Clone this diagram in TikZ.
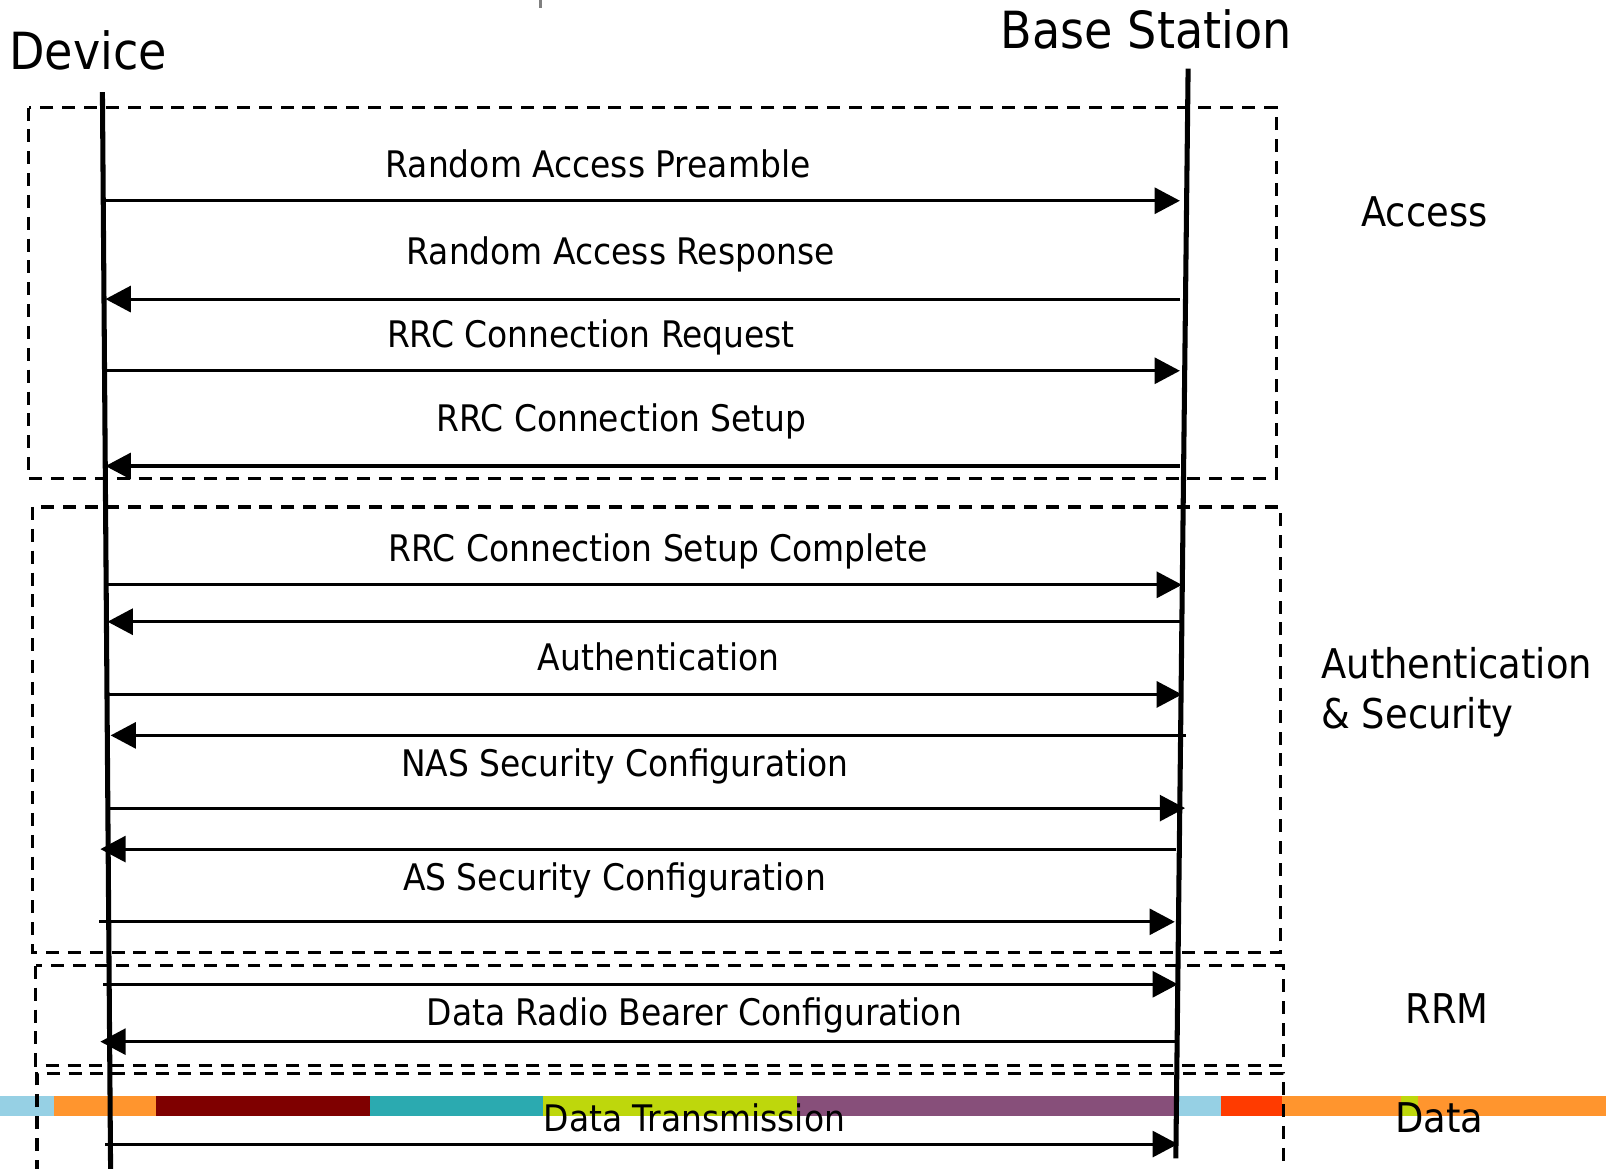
\documentclass[tikz,border=0pt]{standalone}
\usepackage{fontspec}
\setmainfont{DejaVu Sans Condensed}
\usetikzlibrary{arrows.meta}
\definecolor{cLblue}{HTML}{96D0E4}
\definecolor{cOrange}{HTML}{FF952E}
\definecolor{cDred}{HTML}{7F0000}
\definecolor{cTeal}{HTML}{2BAAB0}
\definecolor{cLime}{HTML}{BED70C}
\definecolor{cPurple}{HTML}{874F7A}
\definecolor{cRed}{HTML}{FF3B00}
\tikzset{
  lifeline/.style={line width=3.7pt},
  grpbox/.style={line width=2.4pt, dash pattern=on 9.5pt off 6.5pt},
  msg/.style={line width=2.3pt, -{Triangle[length=18.5pt,width=19pt]}},
  msglabel/.style={anchor=base, inner sep=0pt, font=\fontsize{26.8}{31}\selectfont},
  actor/.style={anchor=base west, inner sep=0pt, font=\fontsize{37.5}{44}\selectfont},
  phase/.style={anchor=base west, inner sep=0pt, font=\fontsize{30}{36}\selectfont},
}
\begin{document}
\begin{tikzpicture}[x=0.75pt,y=-0.75pt]
\useasboundingbox (0,0) rectangle (1568,1141);
% colour bar
\fill[cLblue]  (0,1070) rectangle (53,1090);
\fill[cOrange] (53,1070) rectangle (152,1090);
\fill[cDred]   (152,1070) rectangle (361,1090);
\fill[cTeal]   (361,1070) rectangle (530,1090);
\fill[cLime]   (530,1070) rectangle (778,1090);
\fill[cPurple] (778,1070) rectangle (1147,1090);
\fill[cLblue]  (1147,1070) rectangle (1192,1090);
\fill[cRed]    (1192,1070) rectangle (1252,1090);
\fill[cOrange] (1252,1070) rectangle (1568,1090);
\fill[cLime]   (1368,1070) rectangle (1384,1090);
% small tick at top
\draw[line width=2.2pt, gray] (528,0) -- (528,8);
% group boxes
\draw[grpbox] (28,105) rectangle (1246,467);
\draw[grpbox] (32,495) rectangle (1250,930);
\draw[grpbox] (35,943) rectangle (1253,1040);
\draw[grpbox] (36,1145) -- (36,1048) -- (1253,1048) -- (1253,1145);
% lifelines
\coordinate (d1) at (100,90);
\coordinate (d2) at (108,1145);
\coordinate (b1) at (1160,67);
\coordinate (b2) at (1148,1131);
\draw[lifeline] (d1) -- (d2);
\draw[lifeline] (b1) -- (b2);
% actors
\node[actor] (dev) at (9,68) {Device};
\node[actor] (bs) at (977,47) {Base Station};
% messages
\foreach \n/\y/\xs/\xe in {
  m1/196/103/1152, m3/362/103/1152, m5/571/105/1154, m7/678/105/1154,
  m9/789/107/1157, m11/900/97/1147, m12/961/101/1150, m14/1117/103/1150}{
  \coordinate (\n s) at (\xs,\y);
  \coordinate (\n e) at (\xe,\y);
  \draw[msg] (\n s) -- (\n e);
}
\foreach \n/\y/\xs/\xe in {
  m2/292/1152/103, m4/455/1152/103, m6/607/1153/105, m8/718/1158/108,
  m10/829/1148/98, m13/1017/1147/98}{
  \coordinate (\n s) at (\xs,\y);
  \coordinate (\n e) at (\xe,\y);
  \draw[msg] (\n s) -- (\n e);
}
% message labels
\node[msglabel] (l1) at (584,173) {Random Access Preamble};
\node[msglabel] (l2) at (606,258) {Random Access Response};
\node[msglabel] (l3) at (577,339) {RRC Connection Request};
\node[msglabel] (l4) at (607,421) {RRC Connection Setup};
\node[msglabel] (l5) at (643,548) {RRC Connection Setup Complete};
\node[msglabel] (l7) at (643,655) {Authentication};
\node[msglabel] (l9) at (610,758) {NAS Security Configuration};
\node[msglabel] (l11) at (600,869) {AS Security Configuration};
\node[msglabel] (l13) at (678,1001) {Data Radio Bearer Configuration};
\node[msglabel] (l14) at (678,1105) {Data Transmission};
% phase labels
\node[phase] (pa) at (1329,221) {Access};
\node[phase] (pb) at (1290,662) {Authentication};
\node[phase] (pc) at (1290,711) {\& Security};
\node[phase, anchor=base] (pd) at (1413,999) {RRM};
\node[phase, anchor=base] (pe) at (1405,1106) {Data};
\end{tikzpicture}
\end{document}
